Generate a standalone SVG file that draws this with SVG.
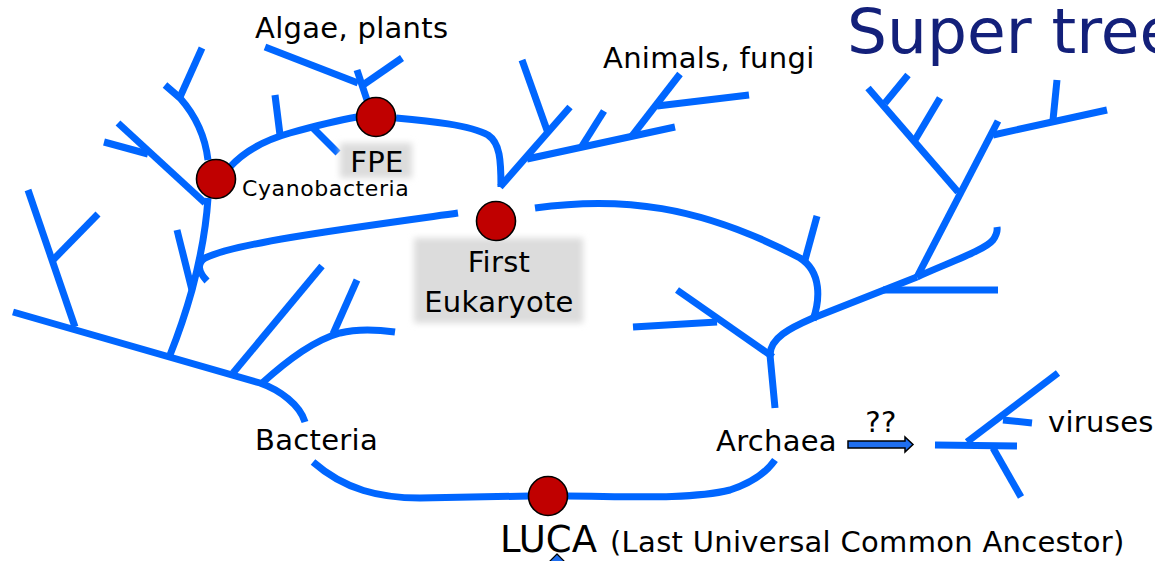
<svg xmlns="http://www.w3.org/2000/svg" width="1155" height="561" viewBox="0 0 1155 561">
<style>
.br{fill:none;stroke:#0066ff;stroke-width:7;stroke-linecap:butt;stroke-linejoin:round}
.nd{fill:#c00000;stroke:#000;stroke-width:1.6}
.t{font-family:"DejaVu Sans",Verdana,sans-serif;font-size:29px;letter-spacing:0.3px;fill:#000}
.sm{font-size:22px;letter-spacing:0.6px}
.box{fill:#dcdcdc;filter:url(#blur)}
</style>
<defs>
<filter id="blur" x="-20%" y="-30%" width="140%" height="160%"><feGaussianBlur stdDeviation="3"/></filter>
</defs>
<rect width="1155" height="561" fill="#fff"/>
<text x="847" y="53" style="font-family:'DejaVu Sans',Verdana,sans-serif;font-size:63px;fill:#13207a">Super tree</text>
<g id="connectors" class="br">
<path d="M13,312 L260,383 C280,390 300,405 305,422"/>
<path d="M28,190 L75,327"/>
<path d="M53,260 L98,214"/>
<path d="M170,355 C178,335 185,315 192,290 C200,260 206,230 208,198"/>
<path d="M177,230 L192,290"/>
<path d="M233,373 L322,266"/>
<path d="M261,384 C290,358 315,340 340,333 C360,328 380,330 395,332"/>
<path d="M333,334 L357,280"/>
<path d="M458,213 C350,228 235,243 205,258 Q193,266 207,281"/>
<path d="M202,48 L180,97"/>
<path d="M165,85 L180,98 C195,115 205,135 208,160"/>
<path d="M118,123 L205,203"/>
<path d="M104,142 L148,154"/>
<path d="M229,168 C245,150 265,140 290,133 C315,126 340,120 357,117"/>
<path d="M275,95 L280,135"/>
<path d="M313,128 L338,153"/>
<path d="M265,47 L358,83"/>
<path d="M402,58 L363,85"/>
<path d="M357,70 L367,100"/>
<path d="M396,118 C430,121 470,125 488,135 C500,143 501,160 501,187"/>
<path d="M500,187 L570,107"/>
<path d="M522,60 L548,133"/>
<path d="M527,159 L675,127"/>
<path d="M582,146 L604,111"/>
<path d="M632,136 L680,74"/>
<path d="M657,106 L749,95"/>
<path d="M535,208 C620,196 700,205 800,258 C822,272 820,300 813,320"/>
<path d="M817,216 L805,260"/>
<path d="M917,277 L813,318 C790,328 770,338 770,355 L775,408"/>
<path d="M677,290 L773,357"/>
<path d="M633,327 L717,322"/>
<path d="M868,88 L958,192"/>
<path d="M885,103 L908,75"/>
<path d="M915,140 L940,98"/>
<path d="M998,121 L917,277"/>
<path d="M993,135 L1107,110"/>
<path d="M1057,80 L1053,120"/>
<path d="M917,277 C950,262 985,250 993,240 Q998,233 997,227"/>
<path d="M883,290 L998,290"/>
<path d="M313,462 C345,490 380,498 420,498 L530,496"/>
<path d="M566,496 C620,496 690,500 730,490 C755,482 768,470 775,460"/>
<path d="M935,445 L1017,446"/>
<path d="M967,442 L1058,373"/>
<path d="M1003,420 L1032,423"/>
<path d="M993,448 L1021,497"/>
<path d="M848,441 L905,441 L905,437 L913,444.5 L905,452 L905,448 L848,448 Z" style="fill:#1f6ff0;stroke:#000;stroke-width:1.5;stroke-linejoin:miter"/>
<path d="M557,554 L567,564 L547,564 Z" style="fill:#1f6ff0;stroke:#000;stroke-width:1.2"/>
</g>
<g id="cyanobacteria"><circle class="nd" cx="216" cy="179" r="19.5"/><text class="t sm" x="242" y="196">Cyanobacteria</text></g>
<g id="fpe"><rect class="box" x="340" y="143" width="72" height="35"/><circle class="nd" cx="376" cy="117" r="19.5"/><text class="t" x="377" y="172" text-anchor="middle">FPE</text></g>
<g id="first-eukaryote"><rect class="box" x="414" y="238" width="169" height="85"/><circle class="nd" cx="496" cy="221" r="19.5"/><text class="t" x="499" y="272" text-anchor="middle">First</text><text class="t" x="499" y="312" text-anchor="middle">Eukaryote</text></g>
<g id="luca"><circle class="nd" cx="548" cy="496" r="19.5"/><text class="t" x="500" y="552" style="font-size:37px;letter-spacing:0">LUCA</text><text class="t" x="610" y="552">(Last Universal Common Ancestor)</text></g>
<g id="algae"><text class="t" x="255" y="38">Algae, plants</text></g>
<g id="animals"><text class="t" x="603" y="68">Animals, fungi</text></g>
<g id="bacteria"><text class="t" x="255" y="450">Bacteria</text></g>
<g id="archaea"><text class="t" x="716" y="451">Archaea</text></g>
<g id="unknown"><text class="t" x="881" y="432" text-anchor="middle">??</text></g>
<g id="viruses"><text class="t" x="1048" y="432">viruses</text></g>
</svg>
